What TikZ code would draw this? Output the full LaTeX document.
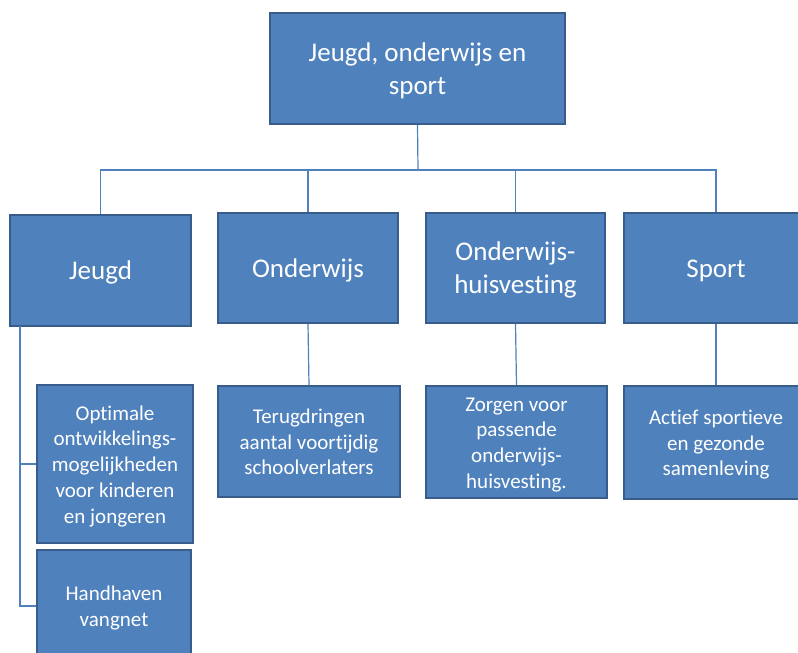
\documentclass[tikz,border=0pt]{standalone}
\usepackage{fontspec}
\setmainfont{Carlito}[Ligatures=NoCommon]
\definecolor{boxfill}{RGB}{79,129,189}
\definecolor{boxborder}{RGB}{56,93,138}
\definecolor{linkcol}{RGB}{79,129,189}
\newcommand\txtdown[1]{\raisebox{-2.5pt}[\height][\depth]{\begin{tabular}{@{}c@{}}#1\end{tabular}}}
\begin{document}
\begin{tikzpicture}[x=1pt,y=-1pt,
  orgbox/.style={draw=boxborder, line width=1.6pt, fill=boxfill, text=white,
    align=center, inner sep=0pt},
  bigtxt/.style={font=\fontsize{27}{33}\selectfont},
  smalltxt/.style={font=\fontsize{21}{25.7}\selectfont},
  link/.style={draw=linkcol, line width=1.2pt}]
\useasboundingbox (0,0) rectangle (798,653);
\clip (0,0) rectangle (798,653);
\fill[white] (0,0) rectangle (798,653);
% top
\node[orgbox,bigtxt,minimum width=295pt,minimum height=111pt] (top) at (417.5,68.5) {\txtdown{Jeugd, onderwijs en\\sport}};
% level 1
\node[orgbox,bigtxt,minimum width=181pt,minimum height=111pt] (jeugd) at (100.5,270.5) {\txtdown{Jeugd}};
\node[orgbox,bigtxt,minimum width=180pt,minimum height=110pt] (ond) at (308,268) {\txtdown{Onderwijs}};
\node[orgbox,bigtxt,minimum width=179pt,minimum height=110pt] (ohv) at (515.5,268) {\txtdown{Onderwijs-\\huisvesting}};
\node[orgbox,bigtxt,minimum width=184pt,minimum height=110pt] (sport) at (716,268) {\txtdown{Sport}};
% level 2
\node[orgbox,smalltxt,minimum width=156pt,minimum height=158pt] (opt) at (115,464) {\txtdown{Optimale\\ontwikkelings-\\mogelijkheden\\voor kinderen\\en jongeren}};
\node[orgbox,smalltxt,minimum width=154pt,minimum height=112pt] (hand) at (114,606) {\txtdown{Handhaven\\vangnet}};
\node[orgbox,smalltxt,minimum width=182pt,minimum height=111pt] (terug) at (309,441.5) {\txtdown{Terugdringen\\aantal voortijdig\\schoolverlaters}};
\node[orgbox,smalltxt,minimum width=181pt,minimum height=112pt] (zorg) at (516.5,442) {\txtdown{Zorgen voor\\passende\\onderwijs-\\huisvesting.}};
\node[orgbox,smalltxt,minimum width=184pt,minimum height=113pt] (actief) at (716,442.5) {\txtdown{Actief sportieve\\en gezonde\\samenleving}};
% connectors
\coordinate (bus) at (418,170);
\coordinate (jl) at (20,326);
\draw[link] (top.south) -- (bus);
\draw[link] (bus) -| (jeugd.north);
\draw[link] (bus) -| (ond.north);
\draw[link] (bus) -| (ohv.north);
\draw[link] (bus) -| (sport.north);
\draw[link] (ond.south) -- (terug.north);
\draw[link] (ohv.south) -- (zorg.north);
\draw[link] (sport.south) -- (actief.north);
\draw[link] (jl) |- (opt.west);
\draw[link] (jl) |- (hand.west);
\end{tikzpicture}
\end{document}
